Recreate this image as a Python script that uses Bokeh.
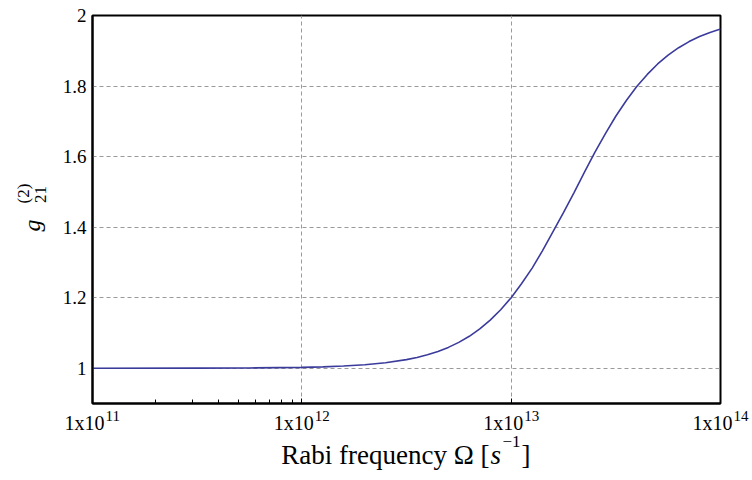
import math
from bokeh.plotting import figure
from bokeh.models import FixedTicker, Range1d
from bokeh.core.properties import value
from bokeh.embed import file_html
from bokeh.resources import INLINE

# Data
omega = [1.00e11, 3.16e11, 5.62e11, 1.00e12, 1.26e12, 1.58e12, 2.00e12, 2.51e12,
         3.16e12, 3.55e12, 3.98e12, 4.47e12, 5.01e12, 5.62e12, 6.31e12, 7.08e12,
         7.94e12, 8.91e12, 1.00e13, 1.12e13, 1.26e13, 1.41e13, 1.58e13, 1.78e13,
         2.00e13, 2.24e13, 2.51e13, 2.82e13, 3.16e13, 3.55e13, 3.98e13, 4.47e13,
         5.01e13, 5.62e13, 6.31e13, 7.08e13, 7.94e13, 8.91e13, 1.00e14]
g2 = [1.0000, 1.0003, 1.0008, 1.0025, 1.0039, 1.0062, 1.0099, 1.0155,
      1.0244, 1.0305, 1.0381, 1.0475, 1.0591, 1.0733, 1.0905, 1.1114,
      1.1363, 1.1657, 1.2000, 1.2394, 1.2838, 1.3328, 1.3857, 1.4416,
      1.4987, 1.5562, 1.6121, 1.6651, 1.7143, 1.7589, 1.7985, 1.8330,
      1.8626, 1.8877, 1.9087, 1.9261, 1.9404, 1.9521, 1.9615]

x_ticks = [1e11, 1e12, 1e13, 1e14]
x_tick_mantissa = "1x10"
x_tick_exponents = ["11", "12", "13", "14"]
x_minor = [2e11, 3e11, 4e11, 5e11, 6e11, 7e11, 8e11, 9e11]
y_ticks = [1.0, 1.2, 1.4, 1.6, 1.8, 2.0]
y_tick_labels = ["1", "1.2", "1.4", "1.6", "1.8", "2"]

FONT = "Liberation Serif"
XMIN, XMAX, YMIN, YMAX = 1e11, 1e14, 0.9, 2.0
FL, FR, FT, FB = 92, 720, 15, 403   # frame edges in canvas px

p = figure(width=752, height=480, x_axis_type="log", output_backend="svg",
           toolbar_location=None, min_border_left=FL, min_border_right=752 - FR,
           min_border_top=FT, min_border_bottom=480 - FB,
           x_range=Range1d(XMIN, XMAX), y_range=Range1d(YMIN, YMAX))
p.background_fill_color = "white"
p.border_fill_color = "white"
p.outline_line_color = "black"
p.outline_line_width = 2

p.line(omega, g2, line_color="#3b3b9c", line_width=1.6)

# X axis
xa = p.xaxis[0]
xa.ticker = FixedTicker(ticks=x_ticks, minor_ticks=x_minor)
xa.major_label_overrides = {t: "" for t in x_ticks}
xa.major_label_text_font_size = "1px"
xa.major_label_standoff = 0
xa.major_tick_in = 5
xa.major_tick_out = 0
xa.minor_tick_in = 4
xa.minor_tick_out = 0
xa.major_tick_line_color = "black"
xa.minor_tick_line_color = "black"
xa.axis_line_color = "black"
xa.axis_line_width = 2

# Y axis
ya = p.yaxis[0]
ya.ticker = FixedTicker(ticks=y_ticks, minor_ticks=[])
ya.major_label_overrides = {t: l for t, l in zip(y_ticks, y_tick_labels)}
ya.major_tick_in = 0
ya.major_tick_out = 0
ya.minor_tick_in = 0
ya.minor_tick_out = 0
ya.axis_line_color = "black"
ya.axis_line_width = 2
ya.major_label_text_font = FONT
ya.major_label_text_font_size = "19px"
ya.major_label_text_color = "black"
ya.major_label_standoff = 6

# Grid
for g in (p.xgrid[0], p.ygrid[0]):
    g.grid_line_color = "#9a9a9a"
    g.grid_line_dash = "4 3"
    g.grid_line_width = 1
p.xgrid[0].ticker = FixedTicker(ticks=[1e12, 1e13])
p.ygrid[0].ticker = FixedTicker(ticks=[1.0, 1.2, 1.4, 1.6, 1.8])


def row(py):
    """canvas row (px from top) -> y data value (text may sit outside the frame)"""
    return YMIN - (py - FB) * (YMAX - YMIN) / (FB - FT)


def txt(texts, xs, px, py, size, align="left", baseline="alphabetic",
        style="normal", angle=0.0):
    r = p.text(x=xs, y=[row(py)] * len(xs), text=texts, x_offset=px,
               angle=angle, text_align=align, text_baseline=baseline,
               text_font=value(FONT), text_font_size=size,
               text_font_style=style, text_color="black")
    r.level = "overlay"
    return r


# X tick labels 1x10^n
txt([x_tick_mantissa] * len(x_ticks), x_ticks, 12, 422, "20px", align="right")
txt(x_tick_exponents, x_ticks, 13, 415, "15px", align="left")

# X axis title: Rabi frequency Ω [s^-1]
txt(["Rabi frequency \u03a9 ["], [XMIN], 489 - FL, 454, "27px", align="right")
txt(["s"], [XMIN], 490 - FL, 454, "27px", style="italic")
txt(["\u22121"], [XMIN], 502 - FL, 441, "17px")
txt(["]"], [XMIN], 521 - FL, 454, "27px")

# Y axis title: g^(2)_21 (rotated)
txt(["g"], [XMIN], 31 - FL, 225, "24px", align="center", baseline="middle",
    style="italic", angle=math.pi / 2)
txt(["(2)"], [XMIN], 23 - FL, 193, "17px", align="center", baseline="middle",
    angle=math.pi / 2)
txt(["21"], [XMIN], 40 - FL, 194, "17px", align="center", baseline="middle",
    angle=math.pi / 2)

open("out.html", "w").write(file_html(p, INLINE))
